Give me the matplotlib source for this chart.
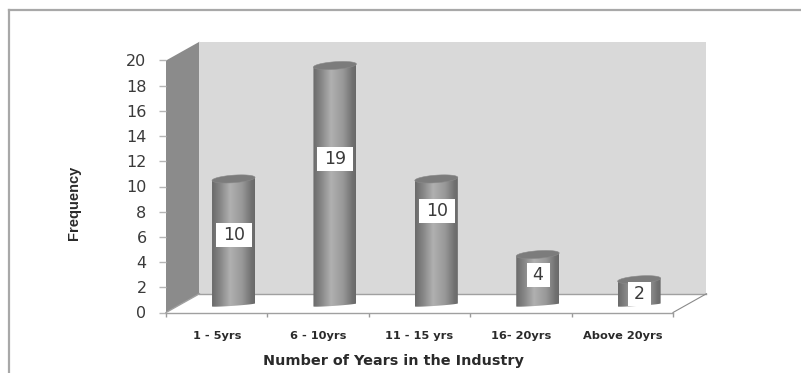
import numpy as np
import matplotlib
matplotlib.use("Agg")
import matplotlib.pyplot as plt
from matplotlib.patches import Polygon, Rectangle
from matplotlib.colors import LinearSegmentedColormap
from matplotlib.lines import Line2D

categories = ["1 - 5yrs", "6 - 10yrs", "11 - 15 yrs", "16- 20yrs", "Above 20yrs"]
frequency = [10, 19, 10, 4, 2]
y_ticks = list(range(0, 21, 2))

W, H = 801, 373
fig = plt.figure(figsize=(W / 100, H / 100), dpi=100, facecolor="white")

# Front plane of the 3-D box, in pixels
x0, x1, ytop, ybot = 166.0, 673.0, 60.5, 312.5
ax = fig.add_axes([x0 / W, 1 - ybot / H, (x1 - x0) / W, (ybot - ytop) / H])
ax.set_xlim(-0.5, 4.5)
ax.set_ylim(0, 20)
ax.patch.set_alpha(0)
for s in ax.spines.values():
    s.set_visible(False)

# Depth of the box and placement of the cylinders within it (data units)
dx, dy = 0.33, 1.49
bar_dx, bar_dy = 0.166, 0.6
half_w = 0.212
ell_top = 0.30
ell_low = 0.07
tilt = 0.12

# Walls and floor
ax.add_patch(Polygon([(-0.5, 0), (-0.5, 20), (-0.5 + dx, 20 + dy), (-0.5 + dx, dy)],
                     closed=True, fc="#8b8b8b", ec="none", clip_on=False, zorder=1))
ax.add_patch(Polygon([(-0.5 + dx, dy), (-0.5 + dx, 20 + dy), (4.5 + dx, 20 + dy), (4.5 + dx, dy)],
                     closed=True, fc="#d9d9d9", ec="none", clip_on=False, zorder=1))
floor_style = dict(color="#a0a0a0", lw=1.0, clip_on=False, zorder=2)
ax.plot([-0.5 + dx, 4.5 + dx], [dy, dy], **floor_style)
ax.plot([-0.5, 4.5], [0, 0], **floor_style)
ax.plot([-0.5, -0.5 + dx], [0, dy], **floor_style)
ax.plot([4.5, 4.5 + dx], [0, dy], color="#8a8a8a", lw=0.8, clip_on=False, zorder=2)

# Cylinders: horizontal shading clipped to the body, darker cap on top
shade = LinearSegmentedColormap.from_list(
    "cyl", [(0, "#6a6a6a"), (0.18, "#858585"), (0.42, "#b0b0b0"),
            (0.7, "#999999"), (0.92, "#717171"), (1, "#696969")])
ramp = np.linspace(0, 1, 128).reshape(1, -1)
t_low = np.linspace(np.pi, 2 * np.pi, 40)
t_up = np.linspace(0, np.pi, 40)
t_top = np.linspace(0, 2 * np.pi, 80)

for i, v in enumerate(frequency):
    cx, base = i + bar_dx, bar_dy
    top = base + v
    low_x = cx + half_w * np.cos(t_low)
    low_y = base + ell_low * np.sin(t_low) + tilt * np.cos(t_low)
    up_x = cx + half_w * np.cos(t_up)
    up_y = top + tilt * np.cos(t_up)
    body = Polygon(np.column_stack([np.r_[low_x, up_x], np.r_[low_y, up_y]]),
                   closed=True, fc="none", ec="none", transform=ax.transData)
    ax.add_patch(body)
    img = ax.imshow(ramp, cmap=shade, aspect="auto", zorder=3,
                    extent=(cx - half_w, cx + half_w, base - 1, top + 1))
    img.set_clip_path(body)
    cap = Polygon(np.column_stack([cx + half_w * np.cos(t_top),
                                   top + ell_top * np.sin(t_top) + tilt * np.cos(t_top)]),
                  closed=True, fc="#7c7c7c", ec="#8a8a8a", lw=0.4, zorder=4)
    ax.add_patch(cap)

ax.set_xlim(-0.5, 4.5)
ax.set_ylim(0, 20)

# Data labels sit at fixed heights along the cylinders, on white boxes
label_heights = [6.15, 12.2, 8.05, 2.96, 1.47]
box_h = 1.9
for i, (v, h) in enumerate(zip(frequency, label_heights)):
    cx = i + bar_dx + 0.003
    box_w = 0.355 if v >= 10 else 0.227
    ax.add_patch(Rectangle((cx - box_w / 2, h - box_h / 2), box_w, box_h,
                           fc="white", ec="none", zorder=5))
    ax.text(cx, h, str(v), ha="center", va="center", fontsize=12.5,
            color="#3a3a3a", zorder=6)

# Axis ticks and labels
ax.set_yticks(y_ticks)
ax.set_yticklabels([str(t) for t in y_ticks], fontsize=11.5, color="#3a3a3a")
ax.tick_params(axis="y", length=5, width=1, color="#b5b5b5", pad=9)
ax.set_xticks(range(len(categories)))
ax.set_xticklabels(categories, fontsize=8.2, fontweight="bold", color="#2a2a2a")
ax.tick_params(axis="x", length=0, pad=13)
ax.set_xticks(np.arange(-0.5, 5.0, 1.0), minor=True)
ax.tick_params(axis="x", which="minor", length=3, width=1, color="#9a9a9a")

fig.text(393 / W, 1 - 361 / H, "Number of Years in the Industry", ha="center", va="center",
         fontsize=10.4, fontweight="bold", color="#2a2a2a")
fig.text(74 / W, 1 - 203 / H, "Frequency", rotation=90, ha="center", va="center",
         fontsize=10.5, fontweight="bold", color="#2a2a2a", family="Liberation Sans")

# Outer chart border: top and left edges only
for xs, ys in [((8.5, 801), (9.5, 9.5)), ((9, 9), (9.5, 373))]:
    fig.add_artist(Line2D(np.array(xs) / W, 1 - np.array(ys) / H, color="#a8a8a8", lw=1.6))

fig.savefig("out.png", dpi=100, facecolor="white")
